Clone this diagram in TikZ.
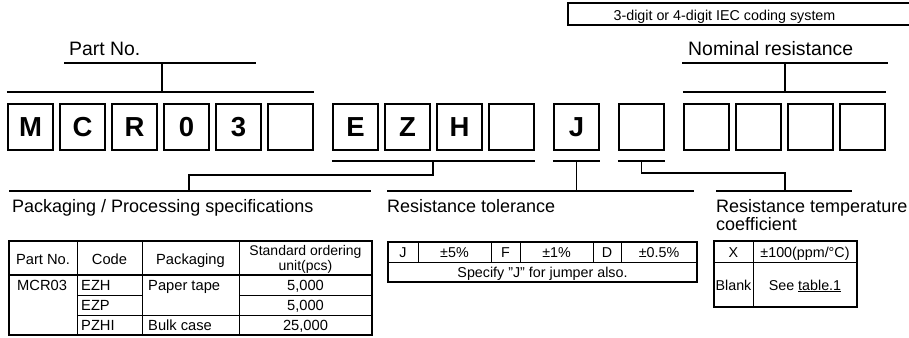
\documentclass[tikz,border=0pt]{standalone}
\usepackage{fontspec}
\setmainfont{Liberation Sans}
\usetikzlibrary{positioning}

\begin{document}
\begin{tikzpicture}[x=1pt,y=-1pt,node distance=52pt,on grid,
  digit/.style={draw,line width=1.8pt,minimum width=45.5pt,minimum height=46pt,inner sep=0pt,
    font=\fontsize{27.5}{27.5}\selectfont\bfseries},
  headline/.style={anchor=base west,inner sep=0pt,font=\fontsize{19.4}{19.4}\selectfont},
  caption/.style={anchor=base west,inner sep=0pt,font=\fontsize{18}{18}\selectfont},
  cell/.style={anchor=base,inner sep=0pt,font=\fontsize{14.7}{14.7}\selectfont},
  bar/.style={line width=1.8pt},
  frame/.style={line width=2pt},
  rule/.style={line width=0.8pt}]
\useasboundingbox (0,0) rectangle (909,337);

% coding system box
\draw[frame] (568,3) rectangle (916,25);
\node[cell,font=\fontsize{14.3}{14.3}\selectfont] (IEC) at (724.5,20.5) {3-digit or 4-digit IEC coding system};

% code boxes
\node[digit] (M)                        at (30.5,127) {M};
\node[digit] (C)      [right=of M]      {C};
\node[digit] (R)      [right=of C]      {R};
\node[digit] (Zero)   [right=of R]      {0};
\node[digit] (Three)  [right=of Zero]   {3};
\node[digit] (BlankA) [right=of Three]  {};
\node[digit] (E)      [right=65pt of BlankA] {E};
\node[digit] (Z)      [right=of E]      {Z};
\node[digit] (H)      [right=of Z]      {H};
\node[digit] (BlankB) [right=of H]      {};
\node[digit] (J)      [right=65pt of BlankB] {J};
\node[digit] (BlankC) [right=65pt of J] {};
\node[digit] (NomA)   [right=65pt of BlankC] {};
\node[digit] (NomB)   [right=of NomA]   {};
\node[digit] (NomC)   [right=of NomB]   {};
\node[digit] (NomD)   [right=of NomC]   {};

% labels
\node[headline] (PartNo)  at (69,55.8)  {Part No.};
\node[headline] (Nominal) at (688,55.5) {Nominal resistance};
\node[caption] (Packaging) at (12,212)  {Packaging / Processing specifications};
\node[caption] (Tolerance) at (387,212) {Resistance tolerance};
\node[caption,align=left] (TCR) at (716,230) {Resistance temperature\\coefficient};

% brackets above
\draw[bar] (64,63) -- (256,63);
\draw[bar] (162,63) -- (162,92);
\draw[bar] (M.north west |- 0,92) -- (BlankA.north east |- 0,92);
\draw[bar] (682,63) -- (888,63);
\draw[bar] (785,63) -- (785,92);
\draw[bar] (NomA.north west |- 0,92) -- (NomD.north east |- 0,92);

% brackets below
\draw[bar] (E.south west |- 0,161) -- (BlankB.south east |- 0,161);
\draw[bar] (433,161) -- (433,175) -- (189,175) -- (189,191);
\draw[bar] (9,191) -- (371,191);
\draw[bar] (J.south west |- 0,161) -- (J.south east |- 0,161);
\draw[bar] (J |- 0,161) -- (J |- 0,191);
\draw[bar] (387,191) -- (694,191);
\draw[bar] (BlankC.south west |- 0,161) -- (BlankC.south east |- 0,161);
\draw[bar] (BlankC |- 0,161) -- (BlankC |- 0,173) -- (785,173) -- (785,191);
\draw[bar] (716,191) -- (852,191);

% packaging table
\draw[frame] (9,241) rectangle (372,335);
\draw[line width=1.3pt] (9,275) -- (372,275);
\draw[rule] (77,241) -- (77,335) (142,241) -- (142,335) (239,241) -- (239,335);
\draw[rule] (77,295) -- (142,295) (239,295) -- (372,295);
\draw[rule] (77,315) -- (372,315);
\node[cell] (HPart) at (43,264.5)   {Part No.};
\node[cell] (HCode) at (109.5,264.5) {Code};
\node[cell] (HPack) at (190.5,264.5) {Packaging};
\node[cell,align=center,font=\fontsize{14}{10.7}\selectfont] (HUnit) at (305.5,270) {Standard ordering\\unit(pcs)};
\node[cell,anchor=base west] (MCR)  at (17,290.5)  {MCR03};
\node[cell,anchor=base west] (EZH)  at (81,290.5)  {EZH};
\node[cell,anchor=base west] (EZP)  at (81,310.5)  {EZP};
\node[cell,anchor=base west] (PZHI) at (81,330.5)  {PZHI};
\node[cell,anchor=base west] (Tape) at (148,290.5) {Paper tape};
\node[cell,anchor=base west] (Bulk) at (148,330.5) {Bulk case};
\node[cell] (UnitA) at (305.5,290.5) {5,000};
\node[cell] (UnitB) at (305.5,310.5) {5,000};
\node[cell] (UnitC) at (305.5,330.5) {25,000};

% tolerance table
\tikzset{cell/.append style={font=\fontsize{14.3}{14.3}\selectfont}}
\draw[frame] (388,242) rectangle (697,282);
\draw[rule] (388,262) -- (697,262);
\draw[rule] (418,242) -- (418,262) (491,242) -- (491,262) (520,242) -- (520,262)
            (593,242) -- (593,262) (621,242) -- (621,262);
\node[cell] (TolJ)  at (403,257.5)   {J};
\node[cell] (TolJv) at (454.5,257.5) {±5\%};
\node[cell] (TolF)  at (505.5,257.5) {F};
\node[cell] (TolFv) at (556.5,257.5) {±1\%};
\node[cell] (TolD)  at (607,257.5)   {D};
\node[cell] (TolDv) at (659,257.5)   {±0.5\%};
\node[cell] (Jumper) at (542.5,277.5) {Specify \char34 J\char34{} for jumper also.};

% TCR table
\draw[frame] (714,241) rectangle (857,307);
\draw[rule] (714,262) -- (857,262);
\draw[rule] (753,241) -- (753,307);
\node[cell] (TcrX)     at (733.5,257) {X};
\node[cell] (TcrXv)    at (805,257)   {±100(ppm/°C)};
\node[cell] (TcrBlank) at (733.5,290) {Blank};
\node[cell] (TcrSee)   at (805,290)   {See \underline{table.1}};
\end{tikzpicture}
\end{document}
